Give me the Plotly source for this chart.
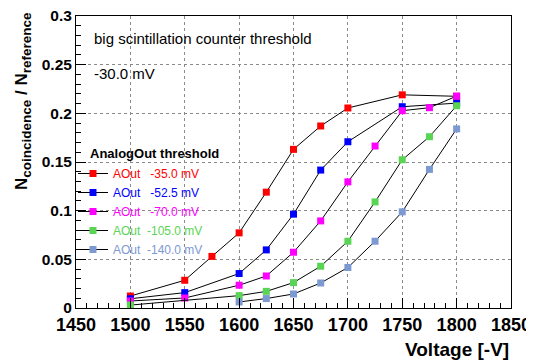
import plotly.graph_objects as go

# ---- data ----
v_35 = [1500, 1550, 1575, 1600, 1625, 1650, 1675, 1700, 1750, 1800]
r_35 = [0.0123, 0.0285, 0.053, 0.0772, 0.119, 0.163, 0.187, 0.2055, 0.219, 0.2175]

v_52 = [1500, 1550, 1600, 1625, 1650, 1675, 1700, 1750, 1800]
r_52 = [0.0095, 0.0158, 0.0354, 0.0597, 0.0964, 0.1417, 0.1708, 0.2068, 0.2105]

v_70 = [1500, 1550, 1600, 1625, 1650, 1675, 1700, 1725, 1750, 1775, 1800]
r_70 = [0.0072, 0.0103, 0.0234, 0.0329, 0.0573, 0.0895, 0.1296, 0.1664, 0.2027, 0.2058, 0.2177]

v_105 = [1500, 1600, 1625, 1650, 1675, 1700, 1725, 1750, 1775, 1800]
r_105 = [0.003, 0.0127, 0.0171, 0.0261, 0.0429, 0.0686, 0.109, 0.1523, 0.176, 0.2078]

v_140 = [1600, 1625, 1650, 1675, 1700, 1725, 1750, 1775, 1800]
r_140 = [0.0062, 0.0097, 0.0144, 0.0257, 0.0416, 0.0686, 0.0988, 0.1424, 0.1840]

series_names = ["AOut\u00a0\u00a0\u00a0-35.0 mV", "AOut\u00a0\u00a0\u00a0-52.5 mV", "AOut\u00a0\u00a0\u00a0-70.0 mV",
                "AOut\u00a0\u00a0-105.0 mV", "AOut\u00a0\u00a0-140.0 mV"]
series_colors = ["#ff0000", "#0000ff", "#ff00ff", "#59d454", "#7d99d1"]

x_tickvals = [1450, 1500, 1550, 1600, 1650, 1700, 1750, 1800, 1850]
x_ticktext = ["1450", "1500", "1550", "1600", "1650", "1700", "1750", "1800", "1850"]
y_tickvals = [0, 0.05, 0.1, 0.15, 0.2, 0.25, 0.3]
y_ticktext = ["0", "0.05", "0.1", "0.15", "0.2", "0.25", "0.3"]

FONT = "Liberation Sans, Arial, Helvetica, sans-serif"

# page body has an 8px margin: figure is 526x353 so that it fills the 534x361 window
W, H = 526, 353
ML, MR, MT, MB = 68, 23, 8, 53
PW, PH = W - ML - MR, H - MT - MB


def px_x(px):  # window pixel -> paper x
    return (px - 8 - ML) / PW


def px_y(py):  # window pixel -> paper y
    return 1 - (py - 8 - MT) / PH


fig = go.Figure()
for xs, ys, name, col in zip([v_35, v_52, v_70, v_105, v_140],
                             [r_35, r_52, r_70, r_105, r_140],
                             series_names, series_colors):
    fig.add_trace(go.Scatter(
        x=xs, y=ys, mode="lines+markers",
        name=f"<span style='color:{col}'>{name}</span>",
        line=dict(color="black", width=1),
        marker=dict(symbol="square", size=7, color=col),
    ))

grid = dict(showgrid=True, gridcolor="#8a8a8a", griddash="dot", gridwidth=1)

fig.update_layout(
    width=W, height=H,
    margin=dict(l=ML, r=MR, t=MT, b=MB, autoexpand=False),
    paper_bgcolor="white", plot_bgcolor="white",
    font=dict(family=FONT, color="black"),
    showlegend=True,
    legend=dict(
        x=px_x(73), y=px_y(159), xanchor="left", yanchor="top",
        bgcolor="rgba(0,0,0,0)", borderwidth=0,
        font=dict(size=12, family=FONT),
        itemwidth=30, tracegroupgap=0,
    ),
    xaxis=dict(
        range=[1450, 1850], tickvals=x_tickvals, ticktext=x_ticktext,
        ticks="inside", ticklen=10, tickcolor="black",
        tickfont=dict(size=18, family=FONT, weight="bold"),
        ticklabeloverflow="allow",
        showline=True, mirror=True, linecolor="black", linewidth=1,
        zeroline=False, automargin=False,
        minor=dict(dtick=10, ticks="inside", ticklen=5, tickcolor="black", showgrid=False),
        title=None, **grid,
    ),
    yaxis=dict(
        range=[0, 0.3], tickvals=y_tickvals, ticktext=y_ticktext,
        ticks="inside", ticklen=10, tickcolor="black",
        tickfont=dict(size=15.5, family=FONT, weight="bold"),
        ticklabeloverflow="allow",
        showline=True, mirror=True, linecolor="black", linewidth=1,
        zeroline=False, automargin=False,
        minor=dict(dtick=0.01, ticks="inside", ticklen=5, tickcolor="black", showgrid=False),
        title=None, **grid,
    ),
)

fig.add_annotation(
    text="<b>AnalogOut threshold</b>", xref="paper", yref="paper",
    x=px_x(88), y=px_y(153), xanchor="left", yanchor="middle", showarrow=False,
    font=dict(size=13, family=FONT),
)
fig.add_annotation(
    text="<b>Voltage [-V]</b>", xref="paper", yref="paper",
    x=px_x(511), y=px_y(349), xanchor="right", yanchor="middle", showarrow=False,
    font=dict(size=19, family=FONT),
)
fig.add_annotation(
    text="<b>N<sub><span style='font-size:13.5px'>coincidence</span></sub> / N<sub><span style='font-size:13.5px'>reference</span></sub></b>",
    xref="paper", yref="paper", x=px_x(23), y=px_y(101), xanchor="center", yanchor="middle",
    textangle=-90, showarrow=False, font=dict(size=17, family=FONT),
)
fig.add_annotation(
    text="big scintillation counter threshold", xref="paper", yref="paper",
    x=px_x(92), y=px_y(39), xanchor="left", yanchor="middle",
    showarrow=False, font=dict(size=15, family=FONT),
)
fig.add_annotation(
    text="-30.0 mV", xref="paper", yref="paper",
    x=px_x(92), y=px_y(73), xanchor="left", yanchor="middle",
    showarrow=False, font=dict(size=15, family=FONT),
)

fig.write_html("out.html")
